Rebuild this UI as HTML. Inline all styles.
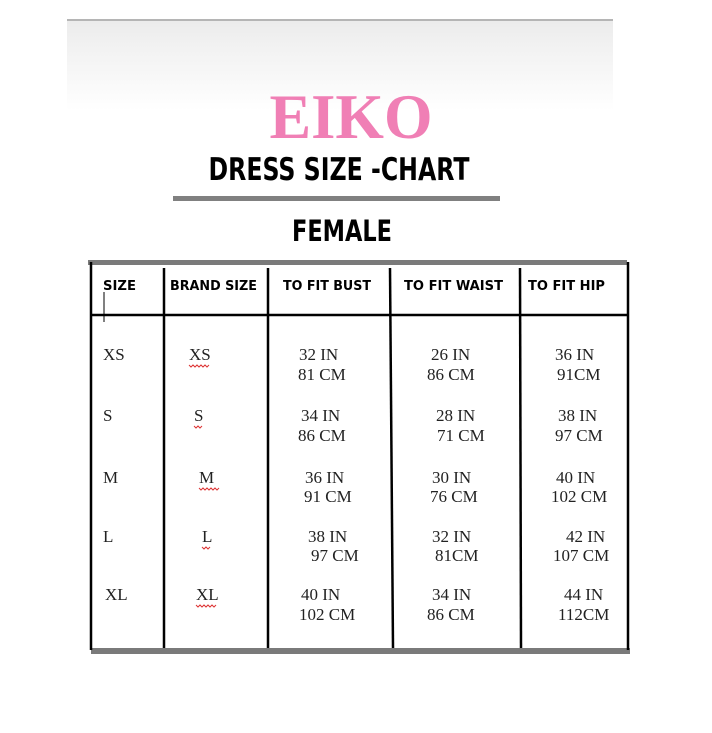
<!DOCTYPE html>
<html><head><meta charset="utf-8"><style>html,body{margin:0;padding:0;background:#fff}svg{display:block}</style></head>
<body>
<svg width="712" height="733" viewBox="0 0 712 733" xmlns="http://www.w3.org/2000/svg">
<defs>
<linearGradient id="g" x1="0" y1="0" x2="0" y2="1">
<stop offset="0" stop-color="#ececec"/><stop offset="1" stop-color="#ffffff"/>
</linearGradient>
</defs>
<rect x="67" y="21" width="546" height="90" fill="url(#g)"/>
<rect x="67" y="19" width="546" height="2" fill="#b5b5b5"/>
<text x="351" y="138" text-anchor="middle" font-family="Liberation Serif, serif" font-weight="bold" font-size="64" fill="#f07fb5" textLength="163" lengthAdjust="spacingAndGlyphs">EIKO</text>
<text x="339" y="180" text-anchor="middle" font-family="DejaVu Sans, sans-serif" font-weight="bold" font-size="31" fill="#000" textLength="261" lengthAdjust="spacingAndGlyphs">DRESS SIZE -CHART</text>
<rect x="173" y="196" width="327" height="5" fill="#808080"/>
<text x="342" y="241" text-anchor="middle" font-family="DejaVu Sans, sans-serif" font-weight="bold" font-size="29" fill="#000" textLength="100" lengthAdjust="spacingAndGlyphs">FEMALE</text>
<rect x="88" y="260" width="539" height="5" fill="#7a7a7a"/>
<rect x="91" y="648" width="539" height="6" fill="#7a7a7a"/>
<g stroke="#000" stroke-width="2.5">
<line x1="91" y1="262" x2="91" y2="650"/>
<line x1="164" y1="268" x2="164" y2="648"/>
<line x1="268" y1="268" x2="268" y2="648"/>
<line x1="390" y1="268" x2="393" y2="648"/>
<line x1="520" y1="268" x2="521" y2="648"/>
<line x1="628" y1="262" x2="628" y2="650"/>
<line x1="91" y1="315" x2="628" y2="315"/>
</g>
<line x1="104" y1="292" x2="104" y2="322" stroke="#000" stroke-width="1"/>
<g font-family="DejaVu Sans, sans-serif" font-weight="bold" font-size="13" fill="#000">
<text x="103" y="290" textLength="33" lengthAdjust="spacingAndGlyphs">SIZE</text>
<text x="170" y="290" textLength="87" lengthAdjust="spacingAndGlyphs">BRAND SIZE</text>
<text x="283" y="290" textLength="88" lengthAdjust="spacingAndGlyphs">TO FIT BUST</text>
<text x="404" y="290" textLength="99" lengthAdjust="spacingAndGlyphs">TO FIT WAIST</text>
<text x="528" y="290" textLength="77" lengthAdjust="spacingAndGlyphs">TO FIT HIP</text>
</g>
<g font-family="Liberation Serif, serif" font-size="17" fill="#222">
<text x="103" y="360">XS</text><text x="189" y="360">XS</text>
<text x="299" y="360">32 IN</text><text x="298" y="380">81 CM</text>
<text x="431" y="360">26 IN</text><text x="427" y="380">86 CM</text>
<text x="555" y="360">36 IN</text><text x="557" y="380">91CM</text>
<text x="103" y="421">S</text><text x="194" y="421">S</text>
<text x="301" y="421">34 IN</text><text x="298" y="441">86 CM</text>
<text x="436" y="421">28 IN</text><text x="437" y="441">71 CM</text>
<text x="558" y="421">38 IN</text><text x="555" y="441">97 CM</text>
<text x="103" y="483">M</text><text x="199" y="483">M</text>
<text x="305" y="483">36 IN</text><text x="304" y="502">91 CM</text>
<text x="432" y="483">30 IN</text><text x="430" y="502">76 CM</text>
<text x="556" y="483">40 IN</text><text x="551" y="502">102 CM</text>
<text x="103" y="542">L</text><text x="202" y="542">L</text>
<text x="308" y="542">38 IN</text><text x="311" y="561">97 CM</text>
<text x="432" y="542">32 IN</text><text x="435" y="561">81CM</text>
<text x="566" y="542">42 IN</text><text x="553" y="561">107 CM</text>
<text x="105" y="600">XL</text><text x="196" y="600">XL</text>
<text x="301" y="600">40 IN</text><text x="299" y="620">102 CM</text>
<text x="432" y="600">34 IN</text><text x="427" y="620">86 CM</text>
<text x="564" y="600">44 IN</text><text x="558" y="620">112CM</text>
</g>
<g fill="none" stroke="#d33" stroke-width="1">
<path d="M189 365 l2 2 2-2 2 2 2-2 2 2 2-2 2 2 2-2 2 2 2-2"/>
<path d="M194 426 l2 2 2-2 2 2 2-2"/>
<path d="M199 488 l2 2 2-2 2 2 2-2 2 2 2-2 2 2 2-2 2 2 2-2"/>
<path d="M202 547 l2 2 2-2 2 2 2-2"/>
<path d="M196 605 l2 2 2-2 2 2 2-2 2 2 2-2 2 2 2-2 2 2 2-2"/>
</g>
</svg>
</body></html>
